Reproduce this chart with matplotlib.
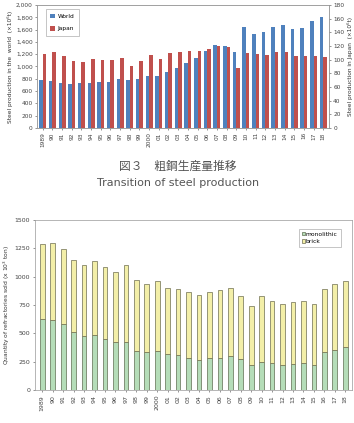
import numpy as np
import matplotlib
matplotlib.use("Agg")
import matplotlib.pyplot as plt

# ── Data ─────────────────────────────────────────────────────────────────────
years = ["1989", "90", "91", "92", "93", "94", "95", "96", "97", "98", "99",
         "2000", "01", "02", "03", "04", "05", "06", "07", "08", "09",
         "10", "11", "12", "13", "14", "15", "16", "17", "18"]

world = [785, 770, 735, 720, 728, 725, 752, 750, 798, 778, 789,
         848, 851, 904, 970, 1063, 1144, 1250, 1347, 1329, 1235,
         1644, 1533, 1556, 1644, 1667, 1611, 1622, 1733, 1811]

japan = [108.0, 111.6, 105.3, 98.6, 96.8, 100.8, 99.5, 99.9, 102.6, 90.5, 97.7,
         106.2, 101.7, 109.4, 110.5, 112.7, 112.5, 116.2, 120.2, 118.7, 87.5,
         109.6, 107.6, 107.2, 110.6, 110.7, 105.1, 104.8, 104.7, 104.3]

totals = [1290, 1296, 1243, 1146, 1102, 1142, 1089, 1042, 1104, 969, 934,
          966, 904, 890, 866, 836, 863, 883, 901, 833, 742,
          830, 784, 757, 775, 784, 757, 892, 936, 966]

monolithic = [627, 618, 583, 510, 477, 483, 448, 421, 424, 345, 333,
              347, 315, 306, 286, 265, 280, 286, 297, 271, 218,
              247, 236, 218, 230, 238, 224, 333, 356, 377]

brick = [t - m for t, m in zip(totals, monolithic)]

plt.rcParams['font.family'] = ['DejaVu Sans']

fig = plt.figure(figsize=(3.54, 4.23), dpi=100)
W, H = 354, 423


def box(l, t, r, b):
    return [l / W, 1 - b / H, (r - l) / W, (b - t) / H]


# ── Top chart: world vs Japan steel production ───────────────────────────────
x = np.arange(len(years))
ax = fig.add_axes(box(37, 5, 329, 128))
bw = 0.36
ax.bar(x - bw / 2, world, bw, color="#4F81BD", label="World")
ax2 = ax.twinx()
ax2.bar(x + bw / 2, japan, bw, color="#C0504D", label="Japan")

ax.set_ylim(0, 2000)
ax2.set_ylim(0, 180)
ax.set_xlim(-0.6, len(years) - 0.4)
ax.set_yticks(np.arange(0, 2001, 200))
ax.set_yticklabels([f"{v:,}" for v in range(0, 2001, 200)])
ax2.set_yticks(np.arange(0, 181, 20))
ax.set_xticks(x)
ax.set_xticklabels(years, rotation=90)
for a in (ax, ax2):
    a.tick_params(labelsize=4.2, length=1.5, width=0.4, colors="#444444", pad=1.5)
    for s in a.spines.values():
        s.set_color("#999999")
        s.set_linewidth(0.5)
ax.set_ylabel("Steel production in the  world  (×10⁶t)", fontsize=4.2,
              color="#333333", labelpad=2)
ax2.set_ylabel("Steel production in Japan  (×10⁶t)", fontsize=4.2,
               color="#333333", labelpad=2)

h1, l1 = ax.get_legend_handles_labels()
h2, l2 = ax2.get_legend_handles_labels()
leg = ax2.legend(h1 + h2, l1 + l2, loc="upper left", bbox_to_anchor=(0.02, 0.99),
                 fontsize=4.2, frameon=True, fancybox=False, handlelength=0.8,
                 handleheight=0.8, labelspacing=1.2, borderpad=0.8, handletextpad=0.4)
leg.get_frame().set_edgecolor("#999999")
leg.get_frame().set_linewidth(0.5)

# ── Caption ──────────────────────────────────────────────────────────────────
fig.text(178 / W, 1 - 166 / H, "図３　粗鋼生産量推移", ha="center", va="center",
         fontsize=8.5, color="#555555", family=["Noto Sans CJK JP", "DejaVu Sans"])
fig.text(178 / W, 1 - 183 / H, "Transition of steel production", ha="center",
         va="center", fontsize=8, color="#555555")

# ── Bottom chart: refractories sold ──────────────────────────────────────────
bx = fig.add_axes(box(35, 220, 352, 390))
bw2 = 0.45
bx.bar(x, monolithic, bw2, color="#B5DDB8", edgecolor="#5E6E50", linewidth=0.5,
       label="monolithic")
bx.bar(x, brick, bw2, bottom=monolithic, color="#F3EFA8", edgecolor="#6E6E50",
       linewidth=0.5, label="brick")
bx.set_ylim(0, 1500)
bx.set_xlim(-0.7, len(years) - 0.35)
bx.set_yticks(np.arange(0, 1501, 250))
bx.set_xticks(x)
bx.set_xticklabels(years, rotation=90)
bx.tick_params(labelsize=4.5, length=1.5, width=0.4, colors="#444444", pad=2)
for s in bx.spines.values():
    s.set_color("#999999")
    s.set_linewidth(0.5)
bx.set_ylabel("Quantity of refractories sold (x 10$^3$ ton)", fontsize=4.3,
              color="#333333", labelpad=1.5)
leg2 = bx.legend(loc="upper right", bbox_to_anchor=(0.97, 0.96), fontsize=4.3,
                 frameon=True, fancybox=False, handlelength=0.5, handleheight=0.5,
                 borderpad=0.5, handletextpad=0.2, labelspacing=0.4,
                 borderaxespad=0.3)
leg2.get_frame().set_edgecolor("#999999")
leg2.get_frame().set_linewidth(0.5)

plt.savefig("out.png", dpi=100)
plt.close()
